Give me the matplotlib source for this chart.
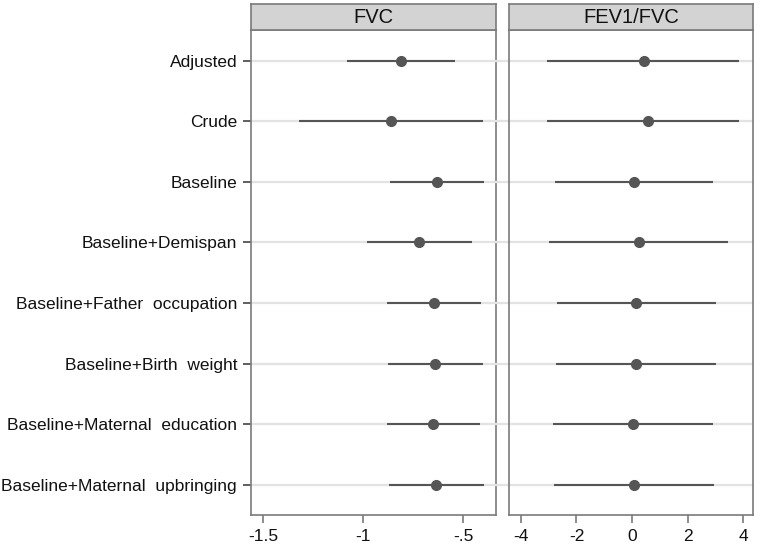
"""Forest plot of FVC and FEV1/FVC estimates across model adjustments."""

import matplotlib.pyplot as plt
from matplotlib.patches import Rectangle

plt.rcParams["font.family"] = ["Liberation Sans", "DejaVu Sans"]

models = [
    "Adjusted",
    "Crude",
    "Baseline",
    "Baseline+Demispan",
    "Baseline+Father  occupation",
    "Baseline+Birth  weight",
    "Baseline+Maternal  education",
    "Baseline+Maternal  upbringing",
]

fvc_est = [-0.809, -0.862, -0.632, -0.719, -0.646, -0.639, -0.649, -0.634]
fvc_lo = [-1.078, -1.319, -0.865, -0.980, -0.879, -0.875, -0.880, -0.872]
fvc_hi = [-0.542, -0.403, -0.398, -0.458, -0.413, -0.403, -0.416, -0.398]

ratio_est = [0.42, 0.56, 0.06, 0.24, 0.15, 0.14, 0.04, 0.07]
ratio_lo = [-3.05, -3.05, -2.76, -2.98, -2.70, -2.72, -2.83, -2.80]
ratio_hi = [3.84, 3.84, 2.92, 3.46, 3.01, 3.01, 2.92, 2.95]

panels = [
    ("FVC", fvc_est, fvc_lo, fvc_hi, [-1.5, -1.0, -0.5], ["-1.5", "-1", "-.5"], (-1.559, -0.338)),
    ("FEV1/FVC", ratio_est, ratio_lo, ratio_hi, [-4, -2, 0, 2, 4], ["-4", "-2", "0", "2", "4"], (-4.42, 4.37)),
]

W, H = 760, 548
fig = plt.figure(figsize=(W / 100, H / 100), dpi=100)

frame = "#7a7a7a"
mark = "#555555"
grid = "#e3e3e3"

# axes boxes in pixel coords: left, right
boxes = [(251, 495.7), (509.3, 753.3)]
top, bottom = 30.3, 515.3
strip_top = 4.3

ypos = list(range(len(models)))

for i, ((title, est, lo, hi, ticks, tlabels, xlim), (x0, x1)) in enumerate(zip(panels, boxes)):
    ax = fig.add_axes([x0 / W, 1 - bottom / H, (x1 - x0) / W, (bottom - top) / H])
    for y in ypos:
        ax.axhline(y, color=grid, lw=1.6, zorder=1)
    ax.hlines(ypos, lo, hi, color=mark, lw=1.5, zorder=2)
    ax.plot(est, ypos, "o", color=mark, ms=7, zorder=3)
    ax.set_xlim(*xlim)
    ax.set_ylim(len(models) - 0.5, -0.5)
    ax.set_xticks(ticks)
    ax.set_xticklabels(tlabels, fontsize=12.5, color="#111111")
    ax.set_yticks(ypos)
    if i == 0:
        ax.set_yticklabels(models, fontsize=12.5, color="#111111")
        ax.tick_params(axis="y", length=6, width=1.2, color="#444444", pad=4)
    else:
        ax.set_yticklabels([])
        ax.tick_params(axis="y", length=10, width=1.6, color=grid)
    ax.tick_params(axis="x", length=6, width=1.2, color=frame, pad=4)
    for s in ax.spines.values():
        s.set_color(frame)
        s.set_linewidth(1.2)

    # panel strip
    strip = fig.add_axes([x0 / W, 1 - top / H, (x1 - x0) / W, (top - strip_top) / H])
    strip.add_patch(Rectangle((0, 0), 1, 1, transform=strip.transAxes,
                              facecolor="#d3d3d3", edgecolor="none"))
    strip.text(0.5, 0.48, title, ha="center", va="center", fontsize=14.5, color="#111111")
    strip.set_xticks([])
    strip.set_yticks([])
    for s in strip.spines.values():
        s.set_color(frame)
        s.set_linewidth(1.2)

fig.savefig("out.png", dpi=100)
